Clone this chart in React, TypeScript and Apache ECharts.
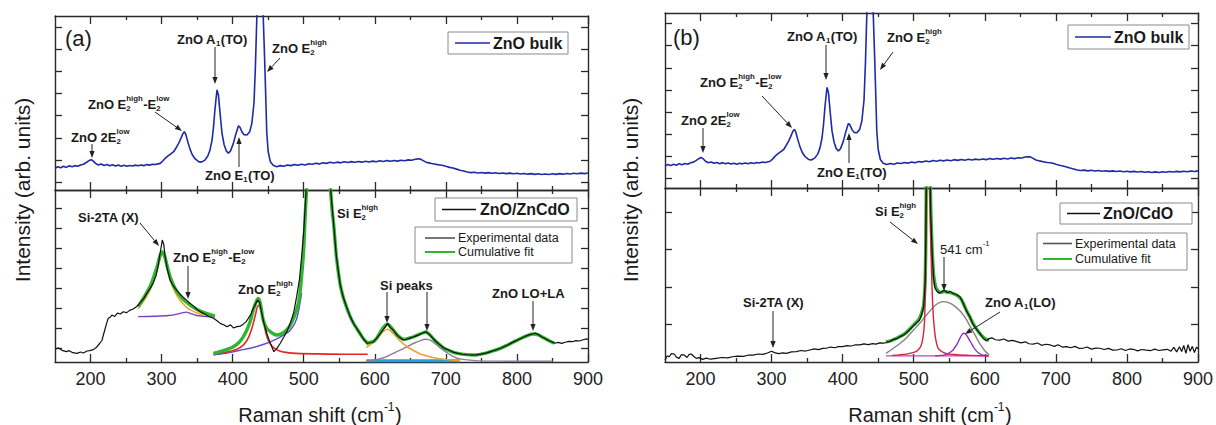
import React, { useEffect, useRef } from 'react';
import * as echarts from 'echarts';

const FONT = '"Liberation Sans", Arial, Helvetica, sans-serif';
const INK = '#1a1a1a';
const AXIS = '#2a2a2a';

// Raman shift axis (cm-1)
const shiftMin = 150;
const shiftMax = 900;
const shiftMajorTicks = [200, 300, 400, 500, 600, 700, 800, 900];
const shiftMinorTicks = [250, 350, 450, 550, 650, 750, 850];

// Intensity tick marks, arbitrary units (each sub-plot spans 0-100)
const bulkTicksA = [4.6, 17.3, 30, 42.7, 55.4, 68.1, 80.8, 93.5];
const znCdOTicks = [8.1, 19.7, 31.3, 42.9, 54.5, 66.1, 77.7, 89.3];
const bulkTicksB = [5.7, 18.3, 30.9, 43.5, 56.1, 68.7, 81.3, 93.9];
const cdOTicks = [21.6, 43.1, 64.7, 86.2];

// ZnO bulk reference spectrum [shift, intensity]
const znoBulk = [
  [150, 12.5], [154, 13.4], [158, 12.8], [162, 13.6], [166, 13.0], [170, 13.9], [174, 13.3], [178, 14.0],
  [182, 13.6], [186, 14.4], [190, 14.8], [194, 15.8], [198, 16.9], [201, 17.4], [204, 16.6], [207, 15.3],
  [211, 14.4], [215, 14.9], [219, 14.1], [223, 14.6], [227, 13.9], [231, 14.5], [235, 13.8], [239, 14.3],
  [243, 13.7], [247, 14.2], [251, 13.6], [255, 14.1], [259, 13.8], [263, 14.3], [267, 13.9], [271, 14.4],
  [275, 14.0], [279, 14.6], [283, 14.3], [287, 14.8], [291, 14.6], [295, 15.0], [298, 15.3], [302, 16.8],
  [305, 18.2], [309, 19.6], [313, 20.8], [317, 22.0], [320, 24.0], [324, 26.8], [327, 29.5], [330, 32.4],
  [332, 33.5], [334, 32.0], [337, 27.5], [340, 23.5], [343, 20.4], [347, 18.0], [352, 16.3], [356, 16.0],
  [361, 17.2], [365, 19.5], [368, 22.8], [371, 28.7], [373, 36], [375, 46], [377, 54], [378, 57.5],
  [380, 54.5], [381, 49.8], [383, 41], [385, 32.6], [388, 26], [391, 22.5], [394, 21.1], [397, 22.5],
  [401, 26.8], [404, 31.5], [408, 36.8], [410, 36.3], [413, 33.5], [416, 31.8], [420, 31.6], [424, 33.5],
  [427, 38.3], [430, 50], [432, 70.9], [434, 99.6], [436, 140], [439, 150], [441, 125], [443, 99.6],
  [445, 75], [446, 61.3], [448, 32.6], [450, 22], [453, 16.3], [457, 14.2], [462, 13.4], [467, 14.0],
  [472, 13.6], [477, 14.3], [482, 14.0], [487, 14.6], [492, 14.2], [497, 14.8], [502, 14.4], [507, 15.1],
  [512, 14.8], [517, 15.4], [522, 15.0], [527, 15.7], [532, 15.3], [537, 15.9], [542, 15.5], [547, 16.0],
  [552, 15.6], [557, 16.2], [562, 15.8], [567, 16.3], [572, 15.9], [577, 16.4], [582, 16.0], [587, 16.5],
  [592, 16.1], [597, 16.6], [602, 16.2], [607, 16.8], [612, 16.4], [617, 16.9], [622, 16.5], [627, 17.0],
  [632, 16.6], [637, 17.1], [642, 16.8], [647, 17.3], [652, 17.1], [657, 17.7], [661, 17.9], [664, 17.8],
  [668, 16.9], [672, 16.0], [676, 15.6], [680, 15.2], [684, 14.9], [688, 14.6], [692, 14.4], [696, 14.1],
  [700, 13.6], [705, 13.0], [710, 12.6], [715, 12.0], [720, 11.4], [725, 10.9], [730, 10.3], [735, 10.0],
  [740, 10.2], [745, 9.8], [750, 10.1], [755, 9.7], [760, 10.0], [765, 9.6], [770, 9.9], [775, 9.5],
  [780, 9.8], [785, 9.4], [790, 9.7], [795, 9.3], [800, 9.6], [805, 9.2], [810, 9.5], [815, 9.1],
  [820, 9.4], [825, 9.0], [830, 9.3], [835, 8.9], [840, 9.2], [845, 8.9], [850, 9.3], [855, 9.0],
  [860, 9.4], [865, 9.1], [870, 9.5], [875, 9.2], [880, 9.6], [885, 9.3], [890, 9.7], [895, 9.4], [900, 9.8],
];

// ZnO/ZnCdO experimental spectrum
const znCdOExp = [
  [150, 7.4], [155, 8.2], [160, 6.8], [166, 6.0], [170, 6.6], [175, 5.4], [181, 5.0], [186, 5.8],
  [190, 5.2], [195, 6.4], [199, 6.6], [204, 7.2], [208, 8.4], [213, 10.9], [216, 12.5], [220, 18.6],
  [223, 23.0], [225, 25.4], [228, 26.2], [230, 27.3], [234, 26.5], [238, 28.4], [242, 27.9], [246, 29.2],
  [251, 28.7], [255, 30.0], [260, 30.8], [265, 32.2], [270, 34.5], [275, 37.0], [279, 39.9], [284, 42.8],
  [288, 45.7], [292, 50.0], [295, 55.5], [297, 61.2], [299, 66.0], [301, 70.9], [303, 68.5], [305, 61.2],
  [308, 54.0], [312, 47.7], [316, 44.5], [321, 41.9], [326, 39.5], [330, 37.8], [335, 36.0], [340, 34.2],
  [345, 32.5], [350, 30.5], [354, 29.3], [360, 28.0], [366, 26.6], [373, 25.4], [378, 24.0], [383, 22.3],
  [388, 21.5], [392, 20.5], [397, 21.6], [401, 19.8], [406, 20.6], [411, 20.9], [415, 22.0], [419, 23.5],
  [422, 25.4], [426, 28.0], [429, 31.2], [432, 33.5], [435, 36.0], [438, 34.5], [441, 28.3], [444, 22.5],
  [448, 16.7], [452, 12.0], [455, 8.9], [458, 6.0], [462, 7.8], [467, 10.9], [472, 14.5], [477, 18.4],
  [481, 22.4], [486, 29.0], [490, 38.0], [494, 48.0], [497, 61.2], [500, 76.0], [502, 90.0], [505, 112],
  [510, 170], [515, 260], [520, 320], [525, 280], [530, 190], [534, 130], [537, 105], [540, 90],
  [542, 80.6], [546, 61.2], [551, 45.7], [555, 38.5], [560, 32.2], [565, 26.8], [570, 22.5], [575, 19.2],
  [579, 16.7], [584, 13.5], [589, 10.9], [594, 11.2], [598, 11.8], [603, 14.0], [608, 16.7], [613, 19.4],
  [618, 22.5], [622, 20.0], [626, 18.6], [630, 16.3], [635, 14.2], [640, 12.8], [645, 13.2], [650, 14.0],
  [655, 14.7], [660, 15.5], [665, 16.4], [672, 17.6], [677, 15.9], [684, 12.8], [690, 10.5], [698, 7.9],
  [705, 6.8], [711, 5.6], [717, 5.0], [723, 4.5], [730, 4.2], [736, 4.0], [742, 4.1], [749, 4.6],
  [756, 5.2], [763, 6.0], [770, 7.0], [777, 8.0], [787, 9.9], [795, 11.7], [801, 12.8], [806, 13.8],
  [811, 14.8], [817, 15.8], [822, 16.3], [826, 16.8], [830, 16.0], [835, 14.5], [839, 13.8], [844, 12.5],
  [849, 11.8], [853, 10.9], [858, 11.4], [863, 10.8], [868, 11.5], [873, 12.0], [878, 11.8], [883, 12.4],
  [888, 12.2], [892, 12.8], [897, 13.4], [900, 13.2],
];

// ZnO/ZnCdO cumulative fit, three fitted windows
const znCdOFitLow = [
  [267, 32.2], [272, 35.5], [278, 39.5], [284, 44], [289, 49.5], [294, 56], [298, 62], [301, 64],
  [304, 62], [308, 55.5], [312, 49.5], [318, 43.5], [324, 39.5], [330, 36.5], [336, 34.5], [342, 32.5],
  [350, 30.5], [358, 29], [366, 27.8], [375, 26.7],
];
const znCdOFitMid = [
  [373, 5.0], [380, 5.8], [388, 6.8], [395, 7.8], [401, 8.9], [408, 11], [414, 14], [420, 18.6],
  [425, 24], [429, 30.2], [433, 35], [436, 37], [439, 34], [443, 24.4], [448, 19.5], [453, 17.6],
  [458, 16.2], [462, 15.7], [468, 16.2], [476, 18.6], [483, 23], [490, 30.2], [494, 38], [497, 49.6],
  [500, 66], [502, 84.5], [505, 110], [510, 170], [515, 260], [520, 320], [525, 280], [530, 190],
  [534, 130], [537, 105], [540, 88], [542, 80.6], [546, 61.2], [551, 45.7], [555, 38.5], [560, 32.2],
  [565, 26.8], [570, 22.5], [575, 19.2], [579, 16.7], [584, 13.5], [590, 11],
];
const znCdOFitHigh = [
  [588, 10.5], [594, 11.5], [598, 11.8], [603, 14.0], [608, 17.5], [613, 20.5], [618, 22.0], [622, 20.5],
  [626, 18.6], [631, 16.0], [636, 14.2], [640, 13.2], [648, 13.8], [655, 14.7], [662, 16.0], [668, 17.0],
  [672, 17.4], [677, 16.0], [684, 12.8], [691, 10.2], [698, 7.9], [707, 6.2], [717, 5.0], [730, 4.3],
  [742, 4.1], [755, 5.0], [763, 6.0], [775, 7.6], [787, 9.9], [797, 12], [806, 13.8], [814, 15.2],
  [822, 16.3], [830, 15.8], [839, 13.8], [846, 12.2], [853, 10.9],
];

// ZnO/ZnCdO fitted components
const znCdOSi2TA = [
  [267, 31], [272, 33.8], [278, 37.5], [284, 42], [289, 47.5], [294, 54], [298, 60.5], [301, 62.5],
  [304, 60.5], [308, 54], [312, 47.5], [318, 41.5], [324, 37], [330, 34], [336, 31.5], [342, 30],
  [350, 28.5], [358, 27.6], [366, 27], [375, 26.5],
];
const znCdOE2Diff = [
  [267, 26.4], [290, 26.6], [310, 27.0], [322, 27.8], [330, 28.7], [335, 29.0], [340, 28.3], [348, 27.2],
  [360, 26.6], [375, 26.2],
];
const znCdOE2High = [
  [373, 4.8], [390, 5.6], [405, 7.2], [415, 9.8], [422, 14], [428, 21], [432, 27.5], [436, 33],
  [440, 30], [444, 22], [448, 15], [453, 10.5], [458, 8.2], [465, 6.6], [475, 5.6], [490, 5.0],
  [520, 4.7], [560, 4.5], [590, 4.5],
];
const znCdOSiTail = [
  [373, 4.1], [390, 5], [410, 6.8], [430, 8.6], [448, 10.9], [460, 13], [471, 15.5], [481, 18.5],
  [490, 25], [497, 40],
];
const znCdOSiPeak1 = [
  [588, 8.5], [595, 10.5], [603, 13.5], [610, 17], [618, 19], [626, 16.5], [635, 12.5], [645, 9],
  [655, 6.5], [665, 4.5], [680, 2.8], [700, 1.5], [720, 0.8],
];
const znCdOSiPeak2 = [
  [588, 0.5], [600, 1.2], [615, 2.8], [631, 6], [645, 8.8], [655, 10.9], [665, 12.6], [672, 13.2],
  [680, 12.3], [693, 7.9], [705, 4.5], [717, 2.1], [742, 0.8], [770, 0.5], [800, 0.4], [830, 0.4], [850, 0.4],
];
const znCdOBaseline = [[588, 0.7], [650, 0.7], [720, 0.7]];

// ZnO/CdO experimental spectrum
const cdOExp = [
  [150, 1.1], [153, 3.5], [156, 3.0], [159, 4.8], [163, 4.6], [166, 2.8], [170, 2.1], [173, 4.2],
  [177, 4.0], [181, 2.6], [184, 4.4], [187, 4.6], [191, 3.0], [194, 2.1], [198, 2.5], [203, 1.5],
  [208, 2.2], [214, 1.6], [222, 2.1], [230, 2.6], [238, 2.4], [245, 3.0], [252, 3.4], [260, 3.2],
  [267, 3.9], [274, 4.0], [281, 4.6], [288, 4.4], [294, 5.2], [300, 6.2], [304, 5.4], [310, 4.8],
  [316, 5.2], [321, 5.0], [328, 5.8], [335, 6.0], [341, 6.6], [348, 6.3], [354, 6.9], [360, 7.5],
  [366, 7.1], [372, 7.8], [377, 7.9], [383, 8.6], [389, 8.2], [394, 8.8], [400, 8.8], [406, 9.4],
  [412, 9.2], [418, 9.9], [424, 9.8], [430, 10.4], [436, 10.0], [442, 10.6], [447, 10.3], [452, 11.0],
  [458, 10.8], [463, 11.5], [466, 11.7], [471, 13.0], [476, 13.4], [481, 14.6], [487, 15.8], [494, 18.4],
  [500, 21], [504, 22.5], [508, 24], [511, 27], [514, 32], [516, 45], [517, 70], [518, 120],
  [520, 180], [522, 130], [524, 85], [526, 62], [528, 48], [530, 42.5], [533, 40.5], [536, 39.5],
  [540, 40.5], [543, 41.4], [547, 39.8], [551, 40.6], [555, 39.5], [560, 38.8], [565, 37.5], [570, 33.5],
  [574, 29.5], [579, 26], [583, 22], [588, 19], [593, 16.5], [598, 13.5], [602, 12.2], [606, 13.4],
  [610, 13.9], [615, 12.8], [621, 12.6], [627, 13.2], [633, 12.0], [639, 12.4], [645, 11.7], [651, 11.0],
  [657, 11.6], [662, 10.5], [668, 10.3], [674, 10.9], [680, 9.6], [686, 10.2], [692, 9.8], [698, 9.0],
  [703, 9.9], [709, 8.6], [715, 8.8], [721, 8.2], [727, 9.0], [733, 7.8], [738, 7.9], [744, 8.6],
  [750, 7.4], [756, 8.0], [762, 7.9], [768, 7.2], [774, 7.8], [780, 6.8], [786, 6.9], [792, 7.6],
  [798, 6.6], [804, 7.5], [809, 7.3], [815, 6.4], [821, 7.2], [827, 6.8], [833, 6.5], [839, 7.4],
  [845, 6.6], [851, 7.0], [857, 7.3], [862, 6.2], [866, 8.4], [870, 5.8], [874, 8.8], [877, 6.0],
  [880, 9.5], [883, 5.0], [886, 10.0], [889, 6.2], [892, 9.0], [895, 5.5], [898, 8.6], [900, 7.5],
];

// ZnO/CdO cumulative fit and components
const cdOFit = [
  [461, 11.5], [470, 12.5], [480, 14.5], [488, 16.5], [494, 18.8], [500, 21.3], [504, 23], [508, 25],
  [511, 28], [514, 33], [516, 46], [517, 70], [518, 120], [520, 180], [522, 130], [524, 88],
  [526, 64], [528, 50], [531, 43], [534, 41], [538, 40], [543, 40.5], [550, 40], [556, 39.2],
  [562, 38], [567, 36], [571, 32.5], [575, 29], [580, 25], [585, 21], [590, 18], [596, 15],
  [602, 13], [606, 12.8],
];
const cdOSiE2 = [
  [470, 3.8], [490, 4.5], [500, 5.5], [505, 6.5], [510, 9], [513, 14], [515, 22], [516, 35],
  [517, 60], [518, 110], [520, 175], [522, 120], [524, 70], [526, 40], [528, 24], [531, 13],
  [535, 7.5], [545, 5], [560, 4.2], [580, 3.8], [605, 3.6],
];
const cdOBroad541 = [
  [461, 5], [470, 7.5], [480, 10.5], [490, 14], [500, 18.5], [510, 23], [520, 28], [530, 32.5],
  [541, 34.7], [550, 34], [558, 32], [566, 29], [574, 24.5], [580, 20], [587, 15], [593, 10.5], [600, 6.5], [606, 4],
];
const cdOA1LO = [
  [530, 3.5], [545, 4.2], [555, 6.8], [562, 11], [566, 14.5], [570, 16.5], [574, 15.5], [580, 11.5],
  [587, 6.8], [595, 4.2], [605, 3.6],
];
const cdOBaseline = [[461, 3.5], [530, 3.5], [606, 3.5]];

type Seg = string | { sup?: string; sub?: string };

let measureCtx: CanvasRenderingContext2D | null = null;
function textWidth(s: string, size: number, weight: string) {
  if (!measureCtx) measureCtx = document.createElement('canvas').getContext('2d');
  measureCtx!.font = `${weight} ${size}px ${FONT}`;
  return measureCtx!.measureText(s).width;
}

function txt(x: number, y: number, s: string, size: number, weight: string, align = 'left') {
  return {
    type: 'text',
    x,
    y,
    silent: true,
    style: {
      text: s,
      font: `${weight} ${size}px ${FONT}`,
      fill: INK,
      align,
      textAlign: align,
      verticalAlign: 'middle',
      textVerticalAlign: 'middle',
    },
  };
}

function segWidth(segs: Seg[], size: number, weight: string) {
  const small = size * 0.6;
  let w = 0;
  for (const s of segs) {
    if (typeof s === 'string') w += textWidth(s, size, weight);
    else w += Math.max(s.sup ? textWidth(s.sup, small, weight) : 0, s.sub ? textWidth(s.sub, small, weight) : 0) + 0.5;
  }
  return w;
}

// Lay out text with stacked super/subscripts; y is the middle of the main line
function richLabel(x: number, y: number, segs: Seg[], size = 13, weight = 'bold', center = false) {
  const els: any[] = [];
  const small = size * 0.6;
  let cx = center ? x - segWidth(segs, size, weight) / 2 : x;
  for (const s of segs) {
    if (typeof s === 'string') {
      els.push(txt(cx, y, s, size, weight));
      cx += textWidth(s, size, weight);
    } else {
      let w = 0;
      if (s.sup) {
        els.push(txt(cx, y - size * 0.42, s.sup, small, weight));
        w = Math.max(w, textWidth(s.sup, small, weight));
      }
      if (s.sub) {
        els.push(txt(cx, y + size * 0.32, s.sub, small, weight));
        w = Math.max(w, textWidth(s.sub, small, weight));
      }
      cx += w + 0.5;
    }
  }
  return els;
}

function arrow(x1: number, y1: number, x2: number, y2: number) {
  const dx = x2 - x1;
  const dy = y2 - y1;
  const len = Math.hypot(dx, dy);
  const ux = dx / len;
  const uy = dy / len;
  const L = 7;
  const W = 2.6;
  const bx = x2 - ux * L;
  const by = y2 - uy * L;
  return [
    { type: 'line', silent: true, shape: { x1, y1, x2: bx, y2: by }, style: { stroke: '#222', lineWidth: 1 } },
    {
      type: 'polygon',
      silent: true,
      shape: { points: [[x2, y2], [bx - uy * W, by + ux * W], [bx + uy * W, by - ux * W]] },
      style: { fill: '#222' },
    },
  ];
}

function legendBox(x: number, y: number, w: number, h: number) {
  return { type: 'rect', silent: true, shape: { x, y, width: w, height: h }, style: { fill: '#fff', stroke: '#8a8a8a', lineWidth: 1 } };
}

function legendLine(x1: number, x2: number, y: number, color: string, width: number) {
  return { type: 'line', silent: true, shape: { x1, y1: y, x2, y2: y }, style: { stroke: color, lineWidth: width } };
}

const E2HL: Seg[] = ['ZnO E', { sup: 'high', sub: '2' }, '-E', { sup: 'low', sub: '2' }];
const E2H: Seg[] = ['ZnO E', { sup: 'high', sub: '2' }];

function buildGraphics() {
  const els: any[] = [];
  const add = (a: any[]) => els.push(...a);

  // panel letters
  els.push(txt(65, 38, '(a)', 22, 'normal'));
  els.push(txt(673, 37, '(b)', 22, 'normal'));

  // axis titles
  for (const cx of [22, 630]) {
    els.push({
      type: 'text',
      x: cx,
      y: 190,
      rotation: Math.PI / 2,
      silent: true,
      style: {
        text: 'Intensity (arb. units)',
        font: `normal 21px ${FONT}`,
        fill: INK,
        align: 'center',
        textAlign: 'center',
        verticalAlign: 'middle',
        textVerticalAlign: 'middle',
      },
    });
  }
  add(richLabel(320, 415, ['Raman shift (cm', { sup: '-1' }, ')'], 20, 'normal', true));
  add(richLabel(930, 415, ['Raman shift (cm', { sup: '-1' }, ')'], 20, 'normal', true));

  // (a) upper: ZnO bulk
  add(richLabel(71, 137, ['ZnO 2E', { sup: 'low', sub: '2' }]));
  add(arrow(92, 144, 92, 158));
  add(richLabel(88, 104, E2HL));
  add(arrow(155, 112, 182, 131));
  add(richLabel(177, 39, ['ZnO A', { sub: '1' }, '(TO)']));
  add(arrow(215, 47, 215, 84));
  add(richLabel(205, 175, ['ZnO E', { sub: '1' }, '(TO)']));
  add(arrow(239, 167, 239, 137));
  add(richLabel(272, 48, E2H));
  add(arrow(280, 58, 267, 72));

  // (a) lower: ZnO/ZnCdO
  add(richLabel(78, 217, ['Si-2TA (X)']));
  add(arrow(140, 223, 159, 246));
  add(richLabel(173, 257, E2HL));
  add(arrow(188, 266, 188, 299));
  add(richLabel(238, 289, E2H));
  add(richLabel(337, 213, ['Si E', { sup: 'high', sub: '2' }]));
  add(richLabel(380, 285, ['Si peaks']));
  add(arrow(387, 292, 387, 323));
  add(arrow(427, 292, 427, 331));
  add(richLabel(492, 293, ['ZnO LO+LA']));
  add(arrow(533, 301, 533, 331));

  // (b) upper: ZnO bulk
  add(richLabel(681, 120, ['ZnO 2E', { sup: 'low', sub: '2' }]));
  add(arrow(703, 128, 703, 153));
  add(richLabel(700, 82, E2HL));
  add(arrow(762, 96, 792, 128));
  add(richLabel(787, 36, ['ZnO A', { sub: '1' }, '(TO)']));
  add(arrow(826, 45, 826, 80));
  add(richLabel(817, 172, ['ZnO E', { sub: '1' }, '(TO)']));
  add(arrow(849, 163, 849, 133));
  add(richLabel(887, 37, E2H));
  add(arrow(893, 52, 880, 70));

  // (b) lower: ZnO/CdO
  add(richLabel(743, 302, ['Si-2TA (X)']));
  add(arrow(773, 311, 773, 348));
  add(richLabel(875, 211, ['Si E', { sup: 'high', sub: '2' }]));
  add(arrow(890, 222, 918, 244));
  add(richLabel(940, 249, ['541 cm', { sup: '-1' }], 13, 'normal'));
  add(arrow(944, 257, 944, 291));
  add(richLabel(985, 302, ['ZnO A', { sub: '1' }, '(LO)']));
  add(arrow(1000, 312, 965, 334));

  // legends
  els.push(legendBox(448, 32, 120, 22), legendLine(455, 490, 43, '#1f2aa6', 1.6));
  els.push(txt(493, 43, 'ZnO bulk', 16, 'bold'));
  els.push(legendBox(435, 198, 142, 23), legendLine(442, 476, 209.5, '#111', 1.6));
  els.push(txt(480, 209.5, 'ZnO/ZnCdO', 16, 'bold'));
  els.push(legendBox(415, 227, 157, 36));
  els.push(legendLine(425, 455, 238, '#555', 1.6), txt(458, 238, 'Experimental data', 12.5, 'normal'));
  els.push(legendLine(425, 455, 252, '#2fb52f', 2), txt(458, 252, 'Cumulative fit', 12.5, 'normal'));

  els.push(legendBox(1068, 25, 121, 24), legendLine(1075, 1111, 37, '#1f2aa6', 1.6));
  els.push(txt(1114, 37, 'ZnO bulk', 16, 'bold'));
  els.push(legendBox(1060, 203, 132, 21), legendLine(1067, 1100, 213.5, '#111', 1.6));
  els.push(txt(1103, 213.5, 'ZnO/CdO', 16, 'bold'));
  els.push(legendBox(1037, 233, 150, 37));
  els.push(legendLine(1043, 1072, 243.5, '#555', 1.6), txt(1075, 243.5, 'Experimental data', 12.5, 'normal'));
  els.push(legendLine(1043, 1072, 259, '#2fb52f', 2), txt(1075, 259, 'Cumulative fit', 12.5, 'normal'));

  return els;
}

const grids = [
  { left: 55, top: 16, width: 533, height: 174 },
  { left: 55, top: 190, width: 533, height: 172 },
  { left: 665, top: 13, width: 533, height: 175 },
  { left: 665, top: 188, width: 533, height: 174 },
];

function xAxesFor(g: number, labels: boolean) {
  const base = { gridIndex: g, type: 'value', min: shiftMin, max: shiftMax, splitLine: { show: false } };
  const tickStyle = { color: AXIS, width: 1.3 };
  const line = { show: true, onZero: false, lineStyle: { color: AXIS, width: 1.4 } };
  const hidden = { show: false, onZero: false };
  const major = { show: true, inside: true, length: 8, customValues: shiftMajorTicks, lineStyle: tickStyle };
  const minor = { show: true, inside: true, length: 4, customValues: shiftMinorTicks, lineStyle: tickStyle };
  return [
    {
      ...base,
      position: 'bottom',
      axisLine: line,
      axisTick: major,
      axisLabel: { show: labels, customValues: shiftMajorTicks, fontSize: 18, color: '#222', fontFamily: FONT, margin: 8 },
    },
    { ...base, position: 'bottom', axisLine: hidden, axisTick: minor, axisLabel: { show: false } },
    { ...base, position: 'top', axisLine: line, axisTick: major, axisLabel: { show: false } },
    { ...base, position: 'top', axisLine: hidden, axisTick: minor, axisLabel: { show: false } },
  ];
}

function yAxesFor(g: number, ticks: number[]) {
  const mk = (position: string) => ({
    gridIndex: g,
    type: 'value',
    position,
    min: 0,
    max: 100,
    splitLine: { show: false },
    axisLabel: { show: false },
    axisLine: { show: true, onZero: false, lineStyle: { color: AXIS, width: 1.4 } },
    axisTick: { show: true, inside: true, length: 7, customValues: ticks, lineStyle: { color: AXIS, width: 1.3 } },
  });
  return [mk('left'), mk('right')];
}

function line(g: number, data: number[][], color: string, width: number, smooth: number | boolean = false) {
  return {
    type: 'line',
    xAxisIndex: g * 4,
    yAxisIndex: g * 2,
    data,
    showSymbol: false,
    symbol: 'none',
    smooth,
    clip: true,
    silent: true,
    lineStyle: { color, width },
  };
}

export default function App() {
  const ref = useRef<HTMLDivElement>(null);

  useEffect(() => {
    if (!ref.current) return;
    const chart = echarts.init(ref.current, undefined, { renderer: 'svg' });
    const green = '#2fb52f';
    chart.setOption({
      animation: false,
      backgroundColor: '#ffffff',
      grid: grids,
      xAxis: [...xAxesFor(0, false), ...xAxesFor(1, true), ...xAxesFor(2, false), ...xAxesFor(3, true)],
      yAxis: [...yAxesFor(0, bulkTicksA), ...yAxesFor(1, znCdOTicks), ...yAxesFor(2, bulkTicksB), ...yAxesFor(3, cdOTicks)],
      series: [
        line(0, znoBulk, '#1f2aa6', 1.6),

        line(1, znCdOBaseline, '#1fa3dc', 3),
        line(1, znCdOSiPeak2, '#8a7f99', 1.4, 0.3),
        line(1, znCdOSiPeak1, '#f0a030', 1.6, 0.3),
        line(1, znCdOE2Diff, '#7b3fc4', 1.4, 0.3),
        line(1, znCdOSi2TA, '#f5a623', 1.6, 0.3),
        line(1, znCdOSiTail, '#5b4fd6', 1.4, 0.3),
        line(1, znCdOE2High, '#e0281e', 1.6, 0.3),
        line(1, znCdOFitLow, green, 3.4, 0.3),
        line(1, znCdOFitMid, green, 3.4, 0.3),
        line(1, znCdOFitHigh, green, 3.4, 0.3),
        line(1, znCdOExp, '#111111', 1.2),

        line(2, znoBulk, '#1f2aa6', 1.6),

        line(3, cdOBaseline, '#c23fc2', 1.4),
        line(3, cdOA1LO, '#8a35c8', 1.4, 0.3),
        line(3, cdOBroad541, '#8c8080', 1.4, 0.3),
        line(3, cdOFit, green, 3.4, 0.3),
        line(3, cdOSiE2, '#d8203a', 1.4, 0.3),
        line(3, cdOExp, '#111111', 1.2),
      ],
      graphic: { elements: buildGraphics().map((e) => ({ ...e, z: 100 })) },
    });
    return () => chart.dispose();
  }, []);

  return (
    <div
      ref={ref}
      style={{ position: 'fixed', left: 0, top: 0, width: 1216, height: 425, background: '#fff' }}
    />
  );
}
